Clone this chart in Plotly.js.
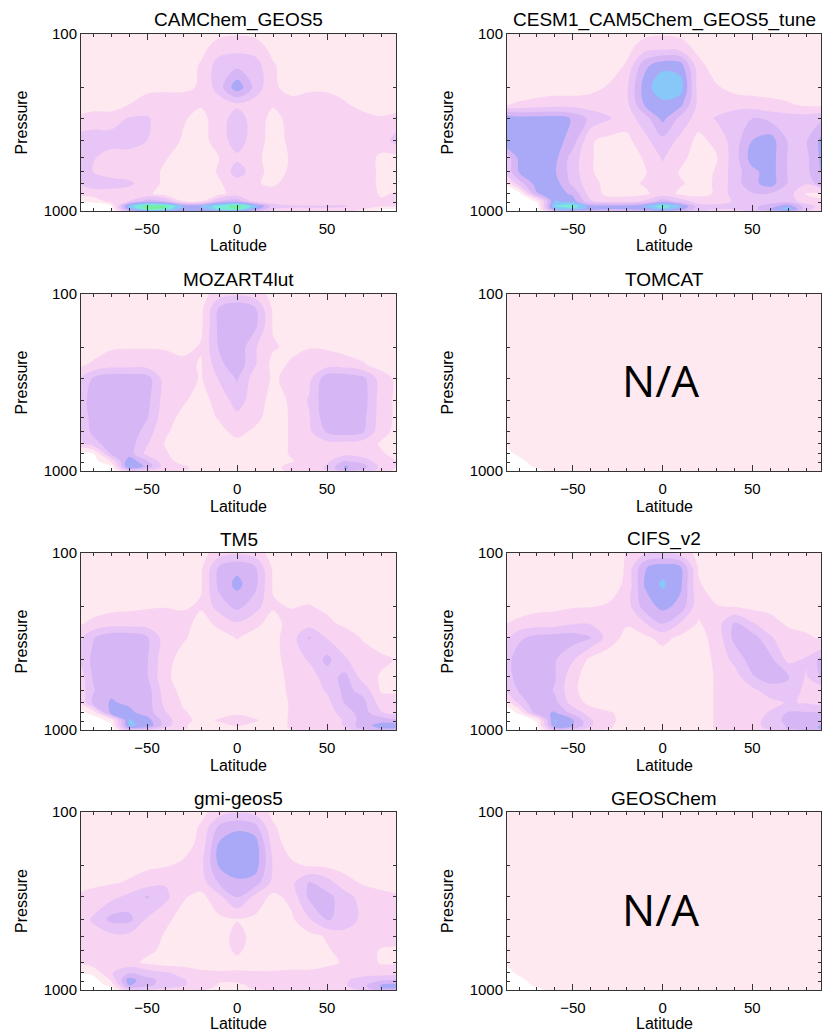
<!DOCTYPE html>
<html><head><meta charset="utf-8">
<script src="https://cdn.plot.ly/plotly-3.0.1.min.js"></script>
<style>html,body{margin:0;padding:0;background:#fff}#chart{width:829px;height:1031px}</style>
</head><body><div id="chart"></div>
<script>
// ---- data ----
const latitudes = [-90,-80,-70,-60,-50,-40,-30,-20,-10,0,10,20,30,40,50,60,70,80,90];
const pressures = [100,120,150,200,250,300,400,500,600,700,800,880,940,975,1000];
const panelTitles = ["CAMChem_GEOS5","CESM1_CAM5Chem_GEOS5_tune","MOZART4lut","TOMCAT","TM5","CIFS_v2","gmi-geos5","GEOSChem"];
const missingPanels = ["TOMCAT","GEOSChem"];
const xAxisTitle = "Latitude";
const yAxisTitle = "Pressure";
const xTickVals = [-50,0,50];
const yTickVals = [100,1000];
const yTickText = ["100","1000"];
const yMinorVals = [200,300,400,500,600,700,800,900];
// level index: 0 below surface, 1 background ... 8 highest
const levelColors = ["#ffffff","#fde9ef","#f8d3f2","#e7c5f6","#d7b6f5","#a9a9f7","#88c8f8","#78ecd8","#72ee9c"];

const camchem = [
[1,1,1,1,1,1,1,1,1.3,1.4,1.3,1,1,1,1,1,1,1,1],
[1,1,1,1,1,1,1,1.2,2,2.2,2,1.2,1,1,1,1,1,1,1],
[1,1,1,1,1,1,1,1.6,3,3.2,3,1.6,1,1,1,1,1,1,1],
[1,1,1,1,1.2,1.3,1.3,1.6,3,5.2,3.2,1.6,1.3,1.3,1.3,1.1,1,1,1],
[1,1,1,1.5,2,2,2,1.6,2,2.3,2,1.6,1.7,2,2,1.6,1.2,1,1],
[1.6,2,2,2.6,2.6,2,1.6,1.2,2,3,2,1.2,1.8,2,2,2,1.8,1.6,2],
[3,3,3,3,2.5,2,1.4,1.1,2,3,2,1.1,1.7,2,2,2,2,2,3],
[3,2.6,2,2,2,1.6,1,1,1.5,2.3,1.8,1,1.6,2,2,2,2,1.3,1.3],
[3,2.5,2,2,2,1.3,1,1,1.6,3,2,1,1.7,2,2,2,2,1.3,1.3],
[2.4,3,3,2.7,2,1.3,1,1,1.4,2,1.6,1.3,2,2,2,2,2,1.3,1.3],
[2,2,2,2,1.7,1.1,1,1,1.2,2,1.6,2,2,2,2,2,2,1.4,1.6],
[0.5,0.7,2,2.5,4,3.5,1.4,1.4,3.5,4,2,2,2,2,2,2,2,1.6,1.6],
[0,0,0.3,6,8,7.8,5.5,5.5,7,8,6,3,2.6,2.6,2.6,2.6,2,1.6,1.6],
[0,0,0.2,5,7.6,7.2,5,5,6.8,7.6,5,2.5,2.4,2.4,2.4,2.2,1.6,0.6,0.4],
[0,0,0,4,5,5,4.5,4.5,5,5,4,2,2,2,2,1.8,1.2,0.2,0]
];

const cesm = [
[1,1,1,1,1,1,1,1,1.3,1.4,1.3,1,1,1,1,1,1,1,1],
[1,1,1,1,1,1,1,1.2,2,2.2,2,1.2,1,1,1,1,1,1,1],
[1,1,1,1,1,1,1,1.6,4.2,5.2,5,1.8,1,1,1,1,1,1,1],
[1,1,1,1,1,1.2,1.6,2.3,5,6.3,6,2,1.6,1.2,1,1,1,1,1],
[1.4,1.6,1.8,2,2,2,2,2.2,4.6,5.2,4.8,2.2,2,2,2,1.8,1.6,1.3,1.2],
[5.5,5,5,5,4.4,3.2,2.6,2,3,4.8,3.2,2,2.6,3.2,3.5,3.2,3,3,3.5],
[5.2,5,5,5,4,1.6,1.2,1.2,2.2,3.2,2.2,1.2,1.8,3,4.5,5,3.4,3.4,5],
[2,4.8,5.2,4.8,3,1.6,1,1,1.6,2.6,1.8,1,1.4,3,5,5,3.4,3.2,5],
[2,4.6,5,4.6,3,1.6,1,1,1.4,2.2,1.4,1,1.6,3,4.2,5,3.4,3.2,4.8],
[0,3,5,5,3.2,1.8,1.2,1.2,1.6,2,1.6,1.2,1.6,3,4.2,5,3.4,2.6,4.4],
[0,0,4.4,5,4.3,2,1.2,1.2,1.3,2,1.3,1.2,1.6,3,3.4,3.4,3,1.4,1.3],
[0,0,0.6,5.6,5,2.6,2,2,2.6,4,3,2,2,2.6,3,3,3,2,1.6],
[0,0,0,6.6,7.2,5,5,5,5.6,7.2,5.6,3,2.8,3,3.2,4,5.2,3,2],
[0,0,0,5.6,6,5,4.6,4.6,5,6,5,3,2.6,2.6,3,4.6,6,3,1.6],
[0,0,0,3,4,4,3.4,3.4,4,4.4,4,2.6,2.2,2.2,2.6,3.4,4.4,2.6,1.2]
];

const mozart = [
[1,1,1,1,1,1,1,1.1,2,2.3,2,1.2,1,1,1,1,1,1,1],
[1,1,1,1,1,1,1,1.2,3.6,4.3,3.6,1.3,1,1,1,1,1,1,1],
[1,1,1,1,1,1,1,1.3,3.8,4.4,3.8,1.4,1,1,1,1,1,1,1],
[1,1.2,1.4,1.45,1.45,1.4,1.2,1.6,3.6,4.3,2.6,1.6,1.3,1.45,1.4,1.1,1,1,1],
[1.3,1.6,2,2,2,2,1.8,1.4,3.2,4.2,2.6,1.2,1.6,2,2,2,1.6,1.1,1],
[2,3.6,4.2,4.2,4,2,2,1.4,2.6,3.6,2,1.4,1.7,2.2,4.2,4.2,3.8,2,1.2],
[2,4.3,4.4,4.4,3.8,2,1.6,1.2,1.8,3,1.9,1.2,1.6,2.6,4.3,4.4,4,2,1.2],
[2,4,4.4,4.4,3.6,1.8,1.3,1,1.6,2.2,1.8,1,1.6,2.4,4.2,4.4,3.8,2,1.2],
[2,3.8,4.4,4.3,3,1.6,1.2,1,1.2,1.8,1.3,1,1.6,2.3,3.6,4,3.6,1.8,1.2],
[2,3,4.2,4,2.6,1.45,1,1,1,1.2,1,1,1.6,2,2.2,2.2,2,1.4,1.2],
[0.3,0.4,3.6,4,2.2,1.6,1.1,1,1,1.1,1,1,1.6,2,2,2.2,2,1.6,1.2],
[0,0,1.6,5.2,3.6,1.8,1.2,1,1,1.2,1,1,1.4,2,2.3,3.6,3,2,1.4],
[0,0,0.4,5.6,4.2,2,1.6,1.2,1.2,1.4,1.2,1.2,1.8,2,2.6,4.6,4,2.2,1.4],
[0,0,0,4,3,2,1.6,1.3,1.3,1.4,1.3,1.2,1.8,2,2.6,4.6,3.6,2.2,1.2],
[0,0,0,2.6,2.2,1.8,1.4,1.2,1.2,1.3,1.2,1.2,1.6,1.8,2,3.6,3,2,1]
];

const tm5 = [
[1,1,1,1,1,1,1,1.1,2,2.3,2,1.1,1,1,1,1,1,1,1],
[1,1,1,1,1,1,1,1.3,3.6,4.2,3.6,1.3,1,1,1,1,1,1,1],
[1,1,1,1,1,1,1,1.4,3.8,4.8,3.8,1.4,1,1,1,1,1,1,1],
[1,1.1,1.2,1.3,1.4,1.45,1.4,1.6,3,3.8,3,1.6,1.45,1.55,1.3,1.1,1,1,1],
[1.3,1.7,2,2,2,2,1.8,1.2,1.7,2.4,1.7,1.2,1.8,2,1.7,1.3,1,1,1],
[1.8,3.4,4.2,4.2,3.6,2,1.6,1.2,1.2,1.55,1.2,1.2,2,3.6,2.4,2,1.4,1,1],
[2,3.8,4.3,4.3,3.6,1.8,1.2,1,1,1,1,1.1,2,2.6,3.8,2.6,2,1.7,1.4],
[1.3,3.6,4.3,4.3,3.6,1.7,1.1,1,1,1,1,1,1.8,2,3,3.8,2,1.4,1.4],
[1.3,3.4,4.3,4.3,4,2,1.2,1,1,1,1,1,1.7,2,2.6,3.8,3.2,1.4,1.4],
[0.6,3.8,4.6,4.3,4,2.2,1.4,1,1,1,1,1,1.6,2,2.2,3.6,3.8,2,1.8],
[0,0.8,4.8,4.8,4,2.6,1.6,1.2,1.1,1.3,1.1,1,1.6,2,2,3,4,2.6,2],
[0,0,0.8,5.6,5,3,1.8,1.2,1.6,2.1,1.6,1.1,1.6,2,2,2.6,4,4.2,3.6],
[0,0,0.3,5.6,5.3,3,1.6,1.2,1.3,1.6,1.3,1.1,1.6,2,2,2.6,4.2,4.8,4.8],
[0,0,0,4.6,4,2.4,1.6,1.2,1.2,1.2,1.2,1.1,1.6,2,2,2.4,4,4.6,4.6],
[0,0,0,3,2.6,2,1.4,1.1,1.1,1.1,1.1,1.1,1.4,1.8,1.8,2,3,4,4]
];

const cifs = [
[1,1,1,1,1,1,1,1.55,2.3,2.6,2.1,1.2,1,1,1,1,1,1,1],
[1,1,1,1,1,1,1,1.6,4.4,5,4.6,1.4,1,1,1,1,1,1,1],
[1,1,1,1,1,1,1,1.7,4.6,5.7,4.7,1.6,1,1,1,1,1,1,1],
[1,1.1,1.2,1.3,1.4,1.45,1.6,2,4,4.8,4.2,1.8,1.55,1.4,1.2,1.1,1,1,1],
[1.4,1.7,2,2,2.4,2.4,2,1.6,2.4,3.6,2.4,1.4,2,3.6,2.6,2,1.3,1.1,1],
[1.8,3.3,3.8,4,4,3.6,2,1.2,1.3,1.8,1.3,1.2,1.8,3.8,4,2.6,2,1.7,1.3],
[2.8,4,4.2,3.6,2.6,1.2,1,1,1,1,1,1,1.7,2.8,4,3.8,2.2,2.6,4],
[2.6,4,4.2,3.6,1.8,1,1,1,1,1,1,1,1.6,2,3.4,4,3.6,2.4,3.8],
[2,3.6,4.2,3.4,1.7,1,1,1,1,1,1,1,1.6,2,2.2,3,3.2,2.2,2],
[0.3,2.8,4.3,3.8,2,1.2,1,1,1,1,1,1,1.6,2,2,2.2,2.6,2.4,2],
[0,0.6,4.2,4.6,3.2,2,1.6,1.2,1,1,1,1,1.6,2,2,2.6,3.6,3.6,3.6],
[0,0,0.6,5.6,4.6,2.6,1.7,1.2,1,1,1,1,1.6,2,2,3,3.8,4,4],
[0,0,0.3,5.4,4.6,2.6,1.6,1.2,1,1,1,1,1.6,2,2,3,3.6,4.2,4.6],
[0,0,0,4.4,3.6,2.2,1.6,1.1,1,1,1,1,1.6,2,2,2.8,3.6,4,4.8],
[0,0,0,3,2.6,1.8,1.3,1.1,1,1,1,1,1.4,1.8,1.8,2.4,3,3.6,4.2]
];

const gmi = [
[1,1,1,1,1,1,1,1.2,2,2.4,2.1,1.3,1,1,1,1,1,1,1],
[1,1,1,1,1,1,1,1.6,3.6,4.2,3.8,1.6,1,1,1,1,1,1,1],
[1,1,1,1,1,1,1,1.8,4.6,5.2,5,2,1,1,1,1,1,1,1],
[1,1,1.1,1.2,1.3,1.4,1.7,2.2,4.6,5.4,5,2.4,1.7,1.4,1.3,1.2,1.1,1,1],
[1.1,1.2,1.4,1.6,2,2.4,2,2,3.6,4.2,4,2.2,2.2,3.6,3,1.8,1.4,1.2,1.1],
[1.6,2,2.2,2.8,3.6,2.8,1.6,1.2,2.2,3.6,2.2,1.2,1.8,3.7,3.8,3,2,1.8,1.6],
[2,2.6,3.8,3.8,2.4,1.7,1.2,1.1,1.3,1.45,1.3,1.1,1.3,2.4,3.6,3.2,2.2,2,2],
[2,2.2,2.2,2.2,2,1.4,1,1,1.1,1.8,1.2,1,1,1.2,1.6,2,2,2,2],
[1.6,2,2,2,1.7,1.3,1,1,1,1.7,1,1,1,1.1,1.4,1.8,2,1.4,1.3],
[1.4,2,2,1.8,1.3,1,1,1,1,1.2,1,1,1,1,1.3,1.6,2,1.4,1.4],
[0.4,0.8,2.4,3.4,3,2.6,2.2,1.7,1.6,1.6,1.6,1.6,1.7,1.7,1.8,2,2.2,2,2],
[0,0,1.6,5,3.8,3.2,2.6,2,1.6,1.6,1.6,2,2,2,2,2.4,2.8,3.4,3.6],
[0,0,0.8,4.6,3.8,3,2.6,2,1.4,1.4,1.6,2,2,2,2,2.4,3.2,4.6,4.8],
[0,0,0.3,3.6,3,2.6,2.2,1.8,1.3,1.3,1.6,1.8,1.8,1.8,1.8,2.2,3,4.6,4.6],
[0,0,0,2.6,2.4,2.2,2,1.6,1.2,1.2,1.4,1.6,1.6,1.6,1.6,2,2.6,4,4]
];

const tomcat = [
[1,1,1,1,1,1,1,1,1,1,1,1,1,1,1,1,1,1,1],
[1,1,1,1,1,1,1,1,1,1,1,1,1,1,1,1,1,1,1],
[1,1,1,1,1,1,1,1,1,1,1,1,1,1,1,1,1,1,1],
[1,1,1,1,1,1,1,1,1,1,1,1,1,1,1,1,1,1,1],
[1,1,1,1,1,1,1,1,1,1,1,1,1,1,1,1,1,1,1],
[1,1,1,1,1,1,1,1,1,1,1,1,1,1,1,1,1,1,1],
[1,1,1,1,1,1,1,1,1,1,1,1,1,1,1,1,1,1,1],
[1,1,1,1,1,1,1,1,1,1,1,1,1,1,1,1,1,1,1],
[1,1,1,1,1,1,1,1,1,1,1,1,1,1,1,1,1,1,1],
[0.4,1,1,1,1,1,1,1,1,1,1,1,1,1,1,1,1,1,1],
[0,0.7,1,1,1,1,1,1,1,1,1,1,1,1,1,1,1,1,1],
[0,0.2,1,1,1,1,1,1,1,1,1,1,1,1,1,1,1,1,1],
[0,0,0.7,1,1,1,1,1,1,1,1,1,1,1,1,1,1,1,1],
[0,0,0.4,1,1,1,1,1,1,1,1,1,1,1,1,1,1,1,1],
[0,0,0.2,1,1,1,1,1,1,1,1,1,1,1,1,1,1,1,1]
];
const geoschem = tomcat;

const panelData = [camchem, cesm, mozart, tomcat, tm5, cifs, gmi, geoschem];

// ---- layout geometry (pixels) ----
const W = 829, H = 1031;
const colPx = [[81,396],[507,821]];
const rowPx = [[34,211],[294,471],[553,730],[812,990]];
const FONT = "Liberation Sans, Arial, Helvetica, sans-serif";
const AX = "#333333";

const n = levelColors.length - 1;
const colorscale = levelColors.map((c,i)=>[i/n, c]);

const traces = [];
const layout = {
  width: W, height: H,
  margin: {l:0, r:0, t:0, b:0},
  paper_bgcolor: "#ffffff", plot_bgcolor: "#ffffff",
  showlegend: false,
  font: {family: FONT, color: "#000"},
  annotations: []
};

function ann(text, xpx, ypx, size, extra) {
  return Object.assign({
    text: text, xref: "paper", yref: "paper", x: xpx/W, y: 1 - ypx/H,
    xanchor: "center", yanchor: "middle", showarrow: false,
    font: {family: FONT, size: size, color: "#000"}
  }, extra || {});
}

panelData.forEach((z, i) => {
  const r = Math.floor(i/2), c = i % 2;
  const s = i === 0 ? "" : String(i+1);
  traces.push({
    type: "contour", x: latitudes, y: pressures, z: z,
    xaxis: "x"+s, yaxis: "y"+s,
    autocontour: false,
    contours: {start: 0.5, end: n - 0.5, size: 1, coloring: "fill", showlines: false},
    line: {width: 0, smoothing: 1},
    colorscale: colorscale, showscale: false, hoverinfo: "skip"
  });
  const [x0, x1] = colPx[c];
  const [y0, y1] = rowPx[r];
  layout["xaxis"+s] = {
    domain: [x0/W, x1/W], anchor: "y"+s, range: [-86.7, 88.3], automargin: false,
    tickmode: "array", tickvals: xTickVals, ticks: "inside", ticklen: 6, tickwidth: 1, tickcolor: AX,
    minor: {tickmode: "linear", tick0: 0, dtick: 10, ticks: "inside", ticklen: 3, tickcolor: AX, showgrid: false},
    showline: true, linecolor: AX, linewidth: 1, mirror: "ticks",
    showgrid: false, zeroline: false, ticklabelstandoff: 4,
    tickfont: {family: FONT, size: 15, color: "#000"}
  };
  layout["yaxis"+s] = {
    domain: [1 - y1/H, 1 - y0/H], anchor: "x"+s, type: "log", range: [3, 2], automargin: false,
    tickmode: "array", tickvals: yTickVals, ticktext: yTickText, ticks: "inside", ticklen: 6, tickcolor: AX,
    minor: {tickmode: "array", tickvals: yMinorVals, ticks: "inside", ticklen: 3, tickcolor: AX, showgrid: false},
    showline: true, linecolor: AX, linewidth: 1, mirror: "ticks",
    showgrid: false, zeroline: false, ticklabelstandoff: 0,
    tickfont: {family: FONT, size: 15, color: "#000"}
  };
  // panel title
  layout.annotations.push(ann(panelTitles[i], (x0+x1)/2, y0 - 14, 19));
  // axis titles
  layout.annotations.push(ann(xAxisTitle, (x0+x1)/2, Math.min(y1 + 35, H - 8), 16));
  layout.annotations.push(ann(yAxisTitle, x0 - 60, (y0+y1)/2, 16, {textangle: -90}));
  if (missingPanels.includes(panelTitles[i])) {
    layout.annotations.push(ann("N/A", 660, r === 1 ? 380 : 909, 44,
      {font: {family: "Open Sans, Noto Sans, sans-serif", size: 44, color: "#000"}}));
  }
});

Plotly.newPlot("chart", traces, layout, {staticPlot: true, displayModeBar: false});
</script>
</body></html>
